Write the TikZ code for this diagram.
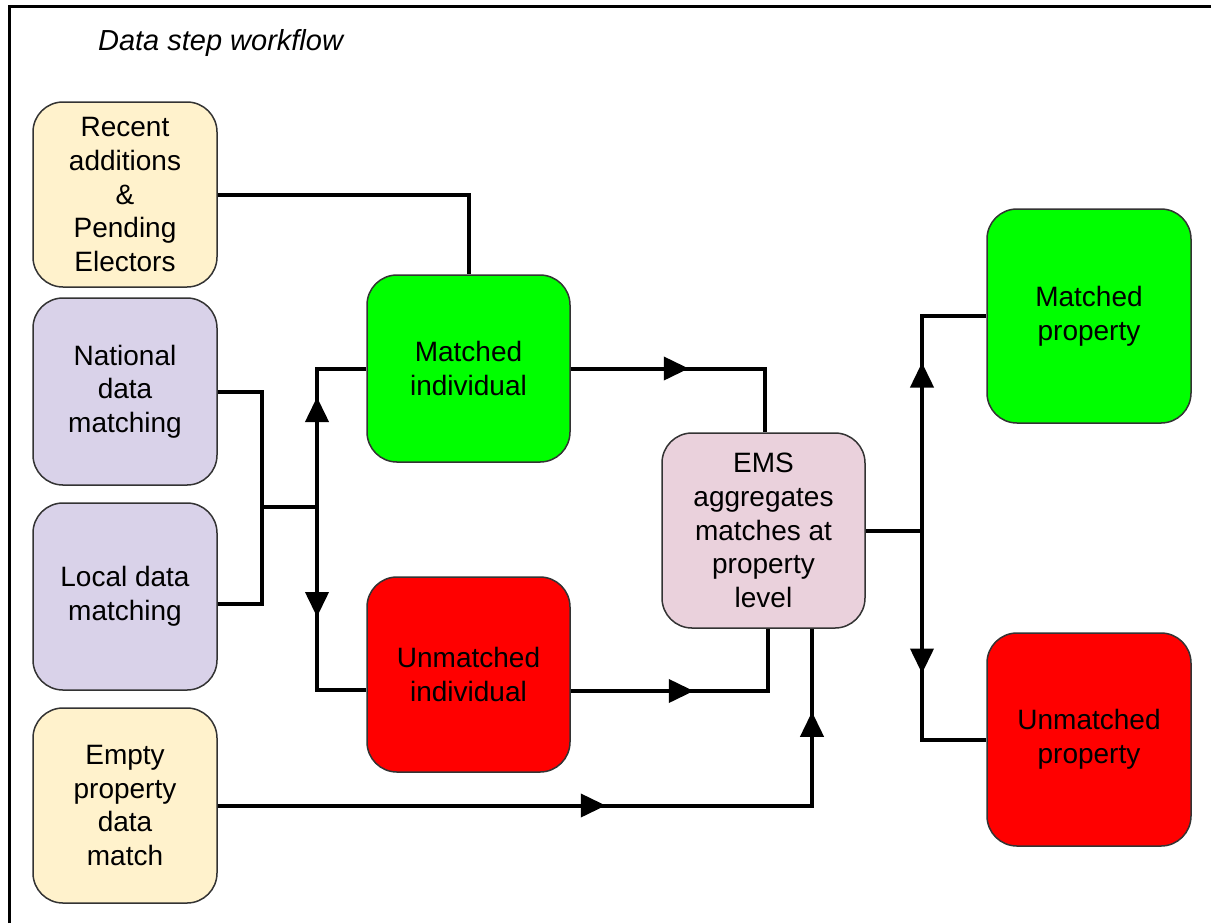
\documentclass[tikz,border=0pt]{standalone}
\usepackage{fontspec}
\setmainfont{Liberation Sans}
\usetikzlibrary{arrows.meta,decorations.markings}

\definecolor{cream}{HTML}{FFF2CC}
\definecolor{lavender}{HTML}{D9D2E9}
\definecolor{pinkish}{HTML}{EAD1DC}
\definecolor{brightgreen}{HTML}{00FF00}
\definecolor{brightred}{HTML}{FF0000}

\tikzset{
  box/.style={draw=black!80, line width=0.75pt, rounded corners=15pt,
    align=center, inner sep=0pt, font=\fontsize{14}{16.8}\selectfont},
  conn/.style={line width=2pt},
  tipat/.style={postaction={decorate, decoration={markings,
    mark=at position #1 with {\arrow{Triangle[length=12.5pt,width=11.5pt]}}}}}
}

\begin{document}
\begin{tikzpicture}[x=0.5pt,y=-0.5pt]
    \useasboundingbox (0,0) rectangle (1211,923);
    % frame and title
    \draw[line width=1.5pt] (9.5,923) -- (9.5,6.5) -- (1211,6.5);
    \node[anchor=base west, font=\fontsize{14.5}{17}\selectfont\itshape] (title) at (91,50) {Data step workflow};

    % sources
    \node[box, fill=cream, minimum width=92pt, minimum height=92.5pt] (recent) at (125,194.5) {Recent\\additions\\\&\\Pending\\Electors};
    \node[box, fill=lavender, minimum width=92pt, minimum height=93.5pt] (national) at (125,391.5) {National\\data\\matching};
    \node[box, fill=lavender, minimum width=92pt, minimum height=93.5pt] (local) at (125,596.5) {Local data\\matching};
    \node[box, fill=cream, minimum width=92pt, minimum height=97.5pt] (empty) at (125,805.5) {Empty\\property\\data\\match};

    % individuals
    \node[box, fill=brightgreen, minimum width=101.5pt, minimum height=93.5pt] (matched) at (468.5,368.5) {Matched\\individual};
    \node[box, fill=brightred, minimum width=101.5pt, minimum height=97.5pt] (unmatched) at (468.5,674.5) {Unmatched\\individual};

    % aggregation
    \node[box, fill=pinkish, minimum width=101.5pt, minimum height=97.5pt] (ems) at (763.5,530.5) {EMS\\aggregates\\matches at\\property\\level};

    % properties
    \node[box, fill=brightgreen, minimum width=102pt, minimum height=107pt] (mprop) at (1089,316) {Matched\\property};
    \node[box, fill=brightred, minimum width=102pt, minimum height=106.5pt] (uprop) at (1089,739.5) {Unmatched\\property};

    % junctions
    \coordinate (jl) at (262,507);
    \coordinate (jr) at (317,507);
    \coordinate (jp) at (922,530.5);

    % connectors
    \draw[conn] (recent.east) -| (matched.north);
    \draw[conn] (national.east) -| (jl) |- ([yshift=-3.75pt]local.east);
    \draw[conn] (jl) -- (jr);
    \draw[conn, tipat=55pt] (jr) |- (matched.west);
    \draw[conn, tipat=55pt] (jr) |- ([yshift=-7.75pt]unmatched.west);
    \draw[conn, tipat=59pt] (matched.east) -| ([xshift=0.75pt]ems.north);
    \draw[conn, tipat=61.5pt] ([yshift=-8.25pt]unmatched.east) -| ([xshift=2.25pt]ems.south);
    \draw[conn, tipat=194pt, tipat=344pt] (empty.east) -| ([xshift=24.25pt]ems.south);
    \draw[conn] (ems.east) -- (jp);
    \draw[conn, tipat=84pt] (jp) |- (mprop.west);
    \draw[conn, tipat=71.5pt] (jp) |- (uprop.west);
\end{tikzpicture}
\end{document}
